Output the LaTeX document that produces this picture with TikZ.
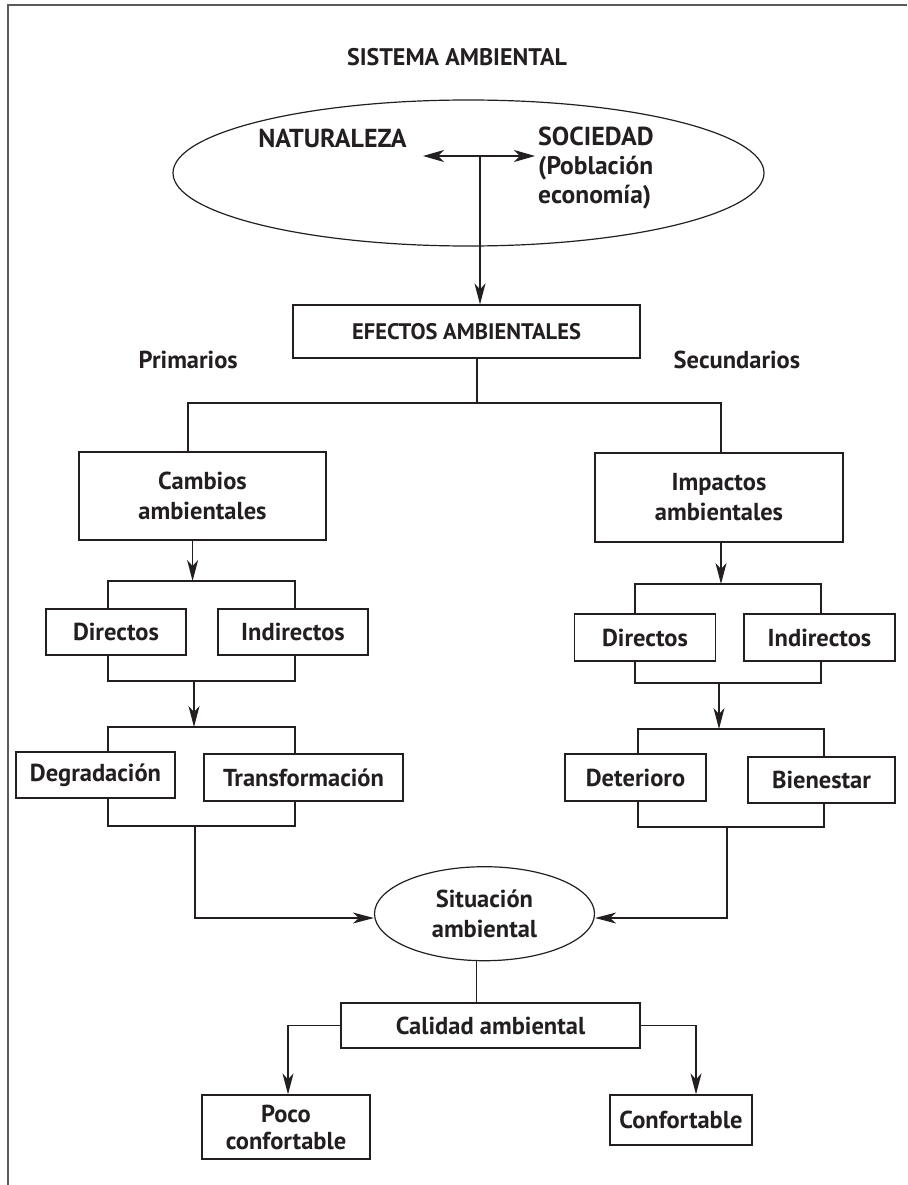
\documentclass[tikz,border=0pt]{standalone}
\usepackage{fontspec}
\setmainfont{PT Sans}
\usetikzlibrary{arrows.meta,shapes.geometric}
\definecolor{ink}{HTML}{231F20}
\definecolor{framegray}{HTML}{5A5A5A}
\begin{document}
\begin{tikzpicture}[x=1pt,y=-1pt,
  every node/.style={font=\bfseries\fontsize{24.5}{30}\selectfont, text=ink},
  line/.style={draw=ink, line width=1.2pt},
  arr/.style={line, -{Stealth[length=21pt,width=11pt,inset=6pt]}},
  darr/.style={line, {Stealth[length=21pt,width=12pt,inset=6pt]}-{Stealth[length=21pt,width=12pt,inset=6pt]}},
  box/.style={line, fill=white, inner sep=0pt, align=center},
  oval/.style={line, ellipse, inner sep=0pt, align=center},
  lbl/.style={inner sep=0pt}]
\useasboundingbox (0,0) rectangle (907,1185);

% frame
\draw[line width=2pt, draw=framegray] (7.5,1185) -- (7.5,5.5) -- (907,5.5);

% title
\node[lbl, font=\bfseries\fontsize{24}{28}\selectfont] (title) at (457,57) {SISTEMA AMBIENTAL};

% system ellipse and contents
\node[oval, minimum width=591pt, minimum height=146pt] (sistema) at (468.5,173) {};
\node[lbl, font=\bfseries\fontsize{26}{30}\selectfont] (nat) at (332.5,138) {NATURALEZA};
\node[lbl, anchor=west, align=left, font=\bfseries\fontsize{25.5}{29}\selectfont] (soc) at (538,168) {{\fontsize{26}{29}\selectfont SOCIEDAD}\\(Población\\economía)};
\coordinate (hub) at (480,156);
\coordinate (hubL) at (423,156);
\coordinate (hubR) at (535,156);
\draw[darr] (hubL) -- (hubR);

% environmental effects
\node[box, minimum width=347pt, minimum height=53pt, font=\bfseries\fontsize{22.5}{26}\selectfont] (efectos) at (466.5,331.5) {EFECTOS AMBIENTALES};
\draw[arr] (hub) -- (hub |- efectos.north);
\node[lbl, anchor=east] (prim) at (238,360) {Primarios};
\node[lbl, anchor=west] (sec) at (673.5,360) {Secundarios};

\node[box, minimum width=247pt, minimum height=88pt] (cambios) at (202.5,496) {Cambios\\ambientales};
\node[box, minimum width=248pt, minimum height=89pt] (impactos) at (719,497.5) {Impactos\\ambientales};

\coordinate (split) at (477,403);
\coordinate (splitL) at (188,403);
\coordinate (splitR) at (721,403);
\draw[line] (split |- efectos.south) -- (split);
\draw[line] (splitL |- cambios.north) -- (splitL) -- (splitR) -- (splitR |- impactos.north);

% left branch brackets
\coordinate (bLa1) at (108,581); \coordinate (bLa2) at (295,681);
\coordinate (bLb1) at (108,727); \coordinate (bLb2) at (295,826);
\draw[line] (bLa1) rectangle (bLa2);
\draw[line] (bLb1) rectangle (bLb2);
% right branch brackets
\coordinate (bRa1) at (635,584); \coordinate (bRa2) at (821,683);
\coordinate (bRb1) at (638,729); \coordinate (bRb2) at (824,827);
\draw[line] (bRa1) rectangle (bRa2);
\draw[line] (bRb1) rectangle (bRb2);

% left branch boxes
\node[box, minimum width=140pt, minimum height=46pt] (dirL) at (116,632) {Directos};
\node[box, minimum width=150pt, minimum height=46pt] (indL) at (293,632) {Indirectos};
\node[box, minimum width=159pt, minimum height=46pt] (degr) at (95.5,775) {Degradación};
\node[box, minimum width=199pt, minimum height=47pt] (trans) at (303.5,777.5) {Transformación};
% right branch boxes
\node[box, minimum width=141pt, minimum height=47pt] (dirR) at (645,637.5) {Directos};
\node[box, minimum width=151pt, minimum height=47pt] (indR) at (819.5,637.5) {Indirectos};
\node[box, minimum width=141pt, minimum height=47pt] (deter) at (635.5,777.5) {Deterioro};
\node[box, minimum width=147pt, minimum height=46pt] (bien) at (821.5,780) {Bienestar};

% arrows down each branch
\coordinate (aL1) at (192.6,0);
\coordinate (aL2) at (194,0);
\coordinate (aR1) at (721,0);
\coordinate (aR2) at (719,0);
\draw[arr] (aL1 |- cambios.south) -- (aL1 |- bLa1);
\draw[arr] (aL2 |- bLa2) -- (aL2 |- bLb1);
\draw[arr] (aR1 |- impactos.south) -- (aR1 |- bRa1);
\draw[arr] (aR2 |- bRa2) -- (aR2 |- bRb1);

% environmental situation
\node[oval, minimum width=220pt, minimum height=94pt] (situ) at (484.5,913.7) {Situación\\ambiental};
\coordinate (joinL) at (195,918);
\coordinate (joinR) at (727,918);
\draw[arr] (joinL |- bLb2) -- (joinL) -- (situ.west |- joinL);
\draw[arr] (joinR |- bRb2) -- (joinR) -- (situ.east |- joinR);

% environmental quality
\node[box, minimum width=299pt, minimum height=45pt] (calidad) at (490.5,1025.5) {Calidad ambiental};
\coordinate (down) at (476.4,0);
\draw[line] (down |- situ.south) -- (down |- calidad.north);

\node[box, minimum width=168pt, minimum height=64pt, font=\bfseries\fontsize{24.5}{27}\selectfont] (poco) at (286,1127) {Poco\\confortable};
\node[box, minimum width=142pt, minimum height=50pt] (confort) at (681,1120) {Confortable};
\coordinate (outL) at (288,0);
\coordinate (outR) at (696,0);
\draw[arr] (calidad.west) -| (outL |- poco.north);
\draw[arr] (calidad.east) -| (outR |- confort.north);
\end{tikzpicture}
\end{document}
